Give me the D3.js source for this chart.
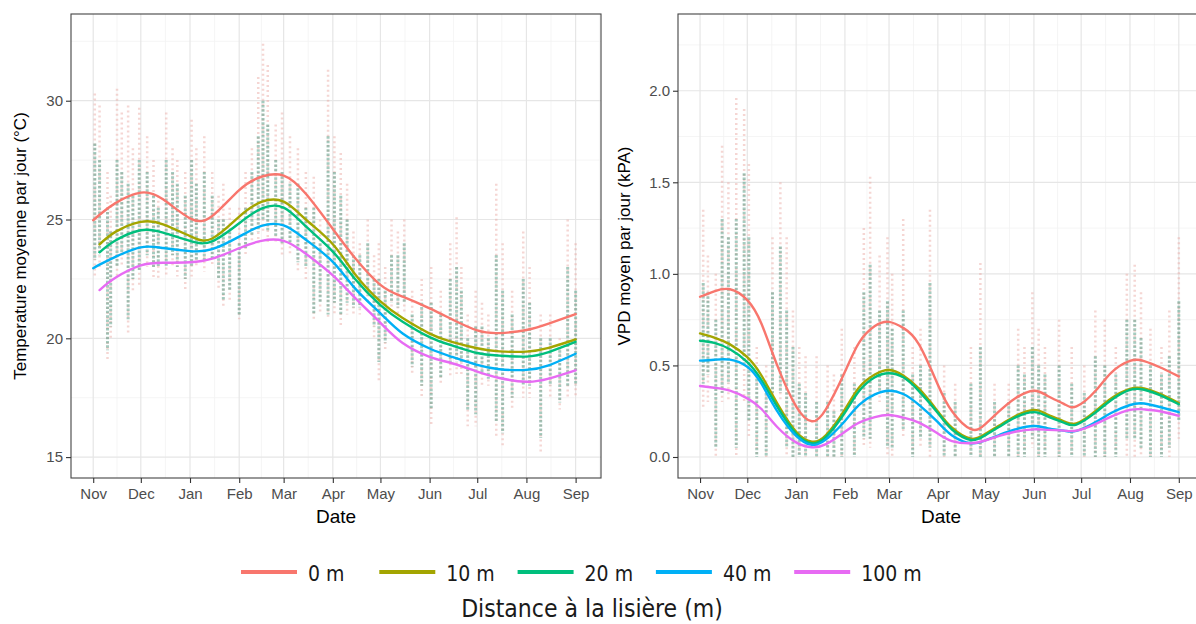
<!DOCTYPE html>
<html><head><meta charset="utf-8">
<script src="https://cdn.jsdelivr.net/npm/d3@7"></script>
<style>body{margin:0;background:#fff} svg{display:block}</style>
</head><body>
<svg id="chart" width="1196" height="624"></svg>
<script>
// ---------- DATA ----------
const seriesNames = ["0 m", "10 m", "20 m", "40 m", "100 m"];
const seriesColors = ["#F8766D", "#A3A500", "#00BF7D", "#00B0F6", "#E76BF3"];
const monthTicks = ["2020-11-01","2020-12-01","2021-01-01","2021-02-01","2021-03-01","2021-04-01","2021-05-01","2021-06-01","2021-07-01","2021-08-01","2021-09-01"];
const monthLabels = ["Nov","Dec","Jan","Feb","Mar","Apr","May","Jun","Jul","Aug","Sep"];
const tempTicks = [15, 20, 25, 30];
const vpdTicks = [0, 0.5, 1, 1.5, 2];
const vpdTickLabels = ["0.0", "0.5", "1.0", "1.5", "2.0"];

// smoothed temperature curves
const tempDates = ["2020-11-01","2020-11-05","2020-11-15","2020-12-01","2020-12-15","2021-01-01","2021-01-15","2021-02-01","2021-02-15","2021-03-01","2021-03-15","2021-04-01","2021-04-15","2021-05-01","2021-05-15","2021-06-01","2021-06-15","2021-07-01","2021-07-15","2021-08-01","2021-08-15","2021-09-01"];
const temp0m   = [24.97, 25.2, 25.69, 26.13, 25.85, 25.05, 25.15, 26.24, 26.8, 26.85, 26.08, 24.6, 23.38, 22.25, 21.75, 21.26, 20.8, 20.33, 20.22, 20.35, 20.62, 21.02];
const temp10m  = [null, 23.95, 24.48, 24.9, 24.8, 24.3, 24.2, 25.12, 25.74, 25.75, 25.0, 23.96, 22.7, 21.55, 20.85, 20.2, 19.85, 19.58, 19.45, 19.44, 19.6, 19.95];
const temp20m  = [null, 23.62, 24.12, 24.55, 24.45, 24.1, 24.08, 24.84, 25.46, 25.5, 24.71, 23.65, 22.5, 21.4, 20.7, 20.05, 19.7, 19.38, 19.27, 19.23, 19.42, 19.85];
const temp40m  = [22.95, 23.1, 23.43, 23.83, 23.8, 23.67, 23.75, 24.28, 24.73, 24.75, 24.15, 23.22, 22.1, 21.05, 20.2, 19.57, 19.22, 18.88, 18.7, 18.67, 18.86, 19.35];
const temp100m = [null, 22.03, 22.55, 23.07, 23.18, 23.2, 23.35, 23.79, 24.1, 24.1, 23.56, 22.65, 21.7, 20.65, 19.8, 19.22, 18.95, 18.6, 18.33, 18.17, 18.3, 18.65];

// smoothed VPD curves
const vpdDates = ["2020-11-01","2020-11-10","2020-11-20","2020-12-01","2020-12-10","2020-12-20","2021-01-01","2021-01-11","2021-01-20","2021-02-01","2021-02-10","2021-02-20","2021-03-01","2021-03-10","2021-03-20","2021-04-01","2021-04-10","2021-04-22","2021-05-01","2021-05-10","2021-05-20","2021-06-01","2021-06-10","2021-06-20","2021-06-28","2021-07-10","2021-07-20","2021-08-01","2021-08-10","2021-08-20","2021-09-01"];
const vpd0m   = [0.875, 0.905, 0.916, 0.857, 0.728, 0.50, 0.277, 0.195, 0.262, 0.465, 0.625, 0.715, 0.738, 0.705, 0.615, 0.395, 0.25, 0.152, 0.178, 0.25, 0.32, 0.362, 0.332, 0.29, 0.276, 0.36, 0.46, 0.525, 0.524, 0.49, 0.44];
const vpd10m  = [0.675, 0.652, 0.615, 0.545, 0.445, 0.293, 0.138, 0.084, 0.12, 0.26, 0.38, 0.45, 0.475, 0.445, 0.373, 0.249, 0.16, 0.10, 0.125, 0.172, 0.222, 0.257, 0.23, 0.195, 0.183, 0.25, 0.32, 0.372, 0.374, 0.345, 0.295];
const vpd20m  = [0.635, 0.623, 0.588, 0.518, 0.42, 0.275, 0.127, 0.075, 0.11, 0.243, 0.36, 0.435, 0.457, 0.435, 0.36, 0.24, 0.15, 0.093, 0.118, 0.165, 0.215, 0.245, 0.22, 0.187, 0.177, 0.242, 0.31, 0.366, 0.367, 0.338, 0.288];
const vpd40m  = [0.526, 0.531, 0.532, 0.493, 0.40, 0.25, 0.115, 0.066, 0.096, 0.197, 0.285, 0.342, 0.362, 0.344, 0.285, 0.19, 0.118, 0.075, 0.09, 0.12, 0.15, 0.169, 0.156, 0.144, 0.143, 0.19, 0.24, 0.284, 0.292, 0.273, 0.245];
const vpd100m = [0.388, 0.378, 0.362, 0.32, 0.262, 0.164, 0.08, 0.053, 0.07, 0.138, 0.188, 0.218, 0.229, 0.215, 0.188, 0.128, 0.087, 0.075, 0.09, 0.115, 0.138, 0.151, 0.148, 0.144, 0.144, 0.18, 0.22, 0.257, 0.26, 0.25, 0.225];

// daily observations (vertical spread of the point clouds): full range and dense core
const tempObsDates = ["2020-11-02","2020-11-05","2020-11-10","2020-11-12","2020-11-16","2020-11-19","2020-11-23","2020-11-26","2020-11-30","2020-12-05","2020-12-09","2020-12-12","2020-12-17","2020-12-21","2020-12-24","2020-12-29","2021-01-02","2021-01-05","2021-01-10","2021-01-15","2021-01-19","2021-01-22","2021-01-26","2021-02-01","2021-02-05","2021-02-09","2021-02-13","2021-02-16","2021-02-19","2021-02-24","2021-02-28","2021-03-05","2021-03-10","2021-03-15","2021-03-20","2021-03-24","2021-03-29","2021-04-02","2021-04-06","2021-04-10","2021-04-14","2021-04-18","2021-04-23","2021-04-27","2021-04-30","2021-05-04","2021-05-08","2021-05-12","2021-05-16","2021-05-21","2021-05-27","2021-06-02","2021-06-08","2021-06-14","2021-06-18","2021-06-21","2021-06-25","2021-06-30","2021-07-04","2021-07-08","2021-07-13","2021-07-17","2021-07-23","2021-07-30","2021-08-03","2021-08-10","2021-08-16","2021-08-22","2021-08-27","2021-09-01"];
const tempObsHigh = [30.3,29.8,27.0,26.0,30.5,29.5,29.8,28.0,29.7,28.5,27.5,26.0,29.5,28.0,27.5,27.0,29.2,28.0,28.5,27.0,26.0,26.5,25.5,25.5,27.0,28.0,31.0,32.4,31.5,29.0,29.5,28.5,28.0,27.0,26.8,25.0,31.3,28.5,27.8,26.5,24.5,24.0,25.0,23.5,24.0,23.0,25.0,24.5,25.0,22.0,22.5,23.0,22.0,24.0,25.1,23.0,21.0,22.0,21.5,21.0,26.5,24.0,22.0,24.5,23.0,21.0,21.0,20.0,25.0,24.0];
const tempObsLow  = [22.6,23.0,19.0,20.0,22.6,23.0,20.2,22.0,22.2,23.0,22.5,22.5,22.6,23.0,22.6,22.0,22.6,23.0,22.8,23.0,22.0,21.3,21.5,20.8,23.5,24.0,24.0,24.5,24.0,24.0,23.5,23.5,22.8,22.5,20.7,21.0,20.8,21.0,20.5,21.0,21.0,21.0,21.5,20.0,18.2,19.5,21.0,21.0,21.0,18.5,17.5,16.3,18.0,18.4,18.5,18.4,16.3,16.3,18.0,18.0,15.8,15.4,17.0,17.5,17.5,15.2,17.5,17.0,17.5,17.5];
const tempCoreHigh = [28.2,27.5,25.5,24.5,27.5,27.0,26.5,26.0,27.5,27.0,26.0,25.5,27.5,27.0,26.5,26.0,27.5,26.5,27.0,26.0,25.0,25.0,24.5,24.0,25.5,27.0,28.5,30.0,29.0,27.5,27.0,26.5,26.5,25.5,25.5,24.0,28.5,27.0,26.0,25.0,23.5,23.5,24.0,22.5,22.5,22.0,23.5,23.5,24.0,21.0,21.5,21.5,21.0,22.5,23.0,22.0,20.0,20.5,20.5,20.0,23.5,22.0,21.0,22.5,21.5,20.0,20.0,19.5,23.0,22.0];
const tempCoreLow  = [23.3,23.5,19.5,20.5,23.0,23.5,20.8,22.5,22.8,23.5,23.0,23.0,23.0,23.5,23.0,22.5,23.0,23.3,23.2,23.3,22.5,21.6,22.0,21.0,23.8,24.3,24.5,25.0,24.5,24.3,24.0,24.0,23.2,23.0,21.0,21.5,21.0,21.5,21.0,21.5,21.3,21.3,21.8,20.5,19.0,19.8,21.5,21.3,21.5,18.8,18.0,17.0,18.3,19.0,19.0,19.0,17.0,16.8,18.5,18.3,16.5,16.0,17.5,18.0,18.0,15.8,18.0,17.3,18.0,18.0];

const vpdObsDates = ["2020-11-03","2020-11-06","2020-11-11","2020-11-15","2020-11-19","2020-11-24","2020-11-29","2020-12-02","2020-12-07","2020-12-13","2020-12-17","2020-12-22","2020-12-26","2020-12-30","2021-01-03","2021-01-07","2021-01-14","2021-01-21","2021-01-25","2021-01-30","2021-02-07","2021-02-13","2021-02-17","2021-02-23","2021-02-28","2021-03-03","2021-03-10","2021-03-16","2021-03-21","2021-03-27","2021-04-05","2021-04-12","2021-04-22","2021-04-28","2021-05-07","2021-05-16","2021-05-22","2021-05-26","2021-05-31","2021-06-04","2021-06-08","2021-06-17","2021-06-25","2021-07-03","2021-07-10","2021-07-16","2021-07-23","2021-07-30","2021-08-04","2021-08-08","2021-08-14","2021-08-21","2021-08-26","2021-09-01"];
const vpdObsHigh = [1.35,1.1,1.0,1.7,1.5,1.96,1.9,1.6,0.6,0.5,1.2,1.5,1.2,0.8,0.6,0.55,0.55,0.5,0.45,0.7,0.6,1.25,1.53,1.1,1.2,1.0,1.3,0.6,0.7,1.35,0.5,0.4,0.6,1.06,0.4,0.4,0.7,0.6,0.9,0.7,0.6,0.75,0.6,0.5,0.8,0.75,0.6,1.0,1.05,0.9,0.7,0.6,0.8,1.2];
const vpdObsLow  = [0.26,0.3,0.0,0.3,0.3,0.0,0.3,0.1,0.0,0.0,0.3,0.3,0.0,0.0,0.0,0.0,0.0,0.0,0.0,0.0,0.0,0.05,0.05,0.3,0.0,0.0,0.1,0.0,0.05,0.0,0.0,0.0,0.0,0.0,0.0,0.0,0.0,0.0,0.05,0.0,0.0,0.0,0.0,0.0,0.0,0.0,0.0,0.0,0.0,0.0,0.0,0.0,0.0,0.1];
const vpdCoreHigh = [0.95,0.9,0.75,1.3,1.2,1.3,1.55,1.2,0.45,0.35,0.9,1.15,0.8,0.6,0.4,0.35,0.3,0.3,0.25,0.45,0.4,0.9,1.05,0.8,0.85,0.7,0.8,0.45,0.5,0.95,0.35,0.3,0.4,0.6,0.3,0.3,0.5,0.45,0.6,0.5,0.45,0.5,0.4,0.35,0.55,0.5,0.45,0.75,0.75,0.65,0.5,0.45,0.55,0.85];
const vpdCoreLow  = [0.4,0.45,0.05,0.35,0.4,0.05,0.5,0.2,0.0,0.0,0.35,0.35,0.05,0.0,0.0,0.0,0.0,0.0,0.0,0.0,0.0,0.1,0.1,0.35,0.05,0.05,0.15,0.0,0.1,0.05,0.0,0.0,0.0,0.0,0.0,0.0,0.0,0.0,0.1,0.0,0.0,0.0,0.0,0.0,0.0,0.0,0.0,0.1,0.1,0.05,0.0,0.0,0.05,0.2];

// ---------- DRAWING ----------
const parse = d3.timeParse("%Y-%m-%d");
const svg = d3.select("#chart");
svg.append("rect").attr("width", 1196).attr("height", 624).attr("fill", "#fff");

const dateDomain = [new Date(2020, 9, 18), new Date(2021, 8, 17)];
const tickFont = "'Liberation Sans', Arial, Helvetica, sans-serif";

function drawPanel(cfg) {
  const x = d3.scaleTime().domain(dateDomain).range([cfg.x0, cfg.x1]);
  const y = d3.scaleLinear().domain(cfg.yDomain).range([478, 14]);
  const g = svg.append("g");
  const clipId = "clip" + cfg.id;
  svg.append("clipPath").attr("id", clipId).append("rect")
    .attr("x", cfg.x0).attr("y", 14).attr("width", cfg.x1 - cfg.x0).attr("height", 464);

  // grid
  const grid = g.append("g").attr("clip-path", `url(#${clipId})`);
  const majors = monthTicks.map(parse);
  const minorX = [];
  minorX.push(new Date(2020, 9, 16, 12));
  for (let i = 0; i < majors.length - 1; i++) minorX.push(new Date((+majors[i] + +majors[i + 1]) / 2));
  minorX.push(new Date(2021, 8, 16));
  grid.selectAll(".mx").data(minorX).join("line")
    .attr("x1", d => x(d)).attr("x2", d => x(d)).attr("y1", 14).attr("y2", 478)
    .attr("stroke", "#F2F2F2").attr("stroke-width", 0.8);
  grid.selectAll(".my").data(cfg.minorY).join("line")
    .attr("x1", cfg.x0).attr("x2", cfg.x1).attr("y1", d => y(d)).attr("y2", d => y(d))
    .attr("stroke", "#F2F2F2").attr("stroke-width", 0.8);
  grid.selectAll(".Mx").data(majors).join("line")
    .attr("x1", d => x(d)).attr("x2", d => x(d)).attr("y1", 14).attr("y2", 478)
    .attr("stroke", "#E6E6E6").attr("stroke-width", 1.2);
  grid.selectAll(".My").data(cfg.ticks).join("line")
    .attr("x1", cfg.x0).attr("x2", cfg.x1).attr("y1", d => y(d)).attr("y2", d => y(d))
    .attr("stroke", "#E6E6E6").attr("stroke-width", 1.2);

  // point clouds (drawn as dotted vertical streaks)
  const obs = g.append("g").attr("clip-path", `url(#${clipId})`);
  const od = cfg.obsDates.map((d, i) => ({ d: parse(d), hi: cfg.obsHigh[i], lo: cfg.obsLow[i], chi: cfg.coreHigh[i], clo: cfg.coreLow[i] }));
  obs.selectAll(".o").data(od).join("line")
    .attr("x1", d => x(d.d)).attr("x2", d => x(d.d))
    .attr("y1", d => y(d.hi)).attr("y2", d => y(d.lo))
    .attr("stroke", "#eaa59f").attr("stroke-width", 2.5).attr("stroke-dasharray", "2,3").attr("opacity", 0.45);
  obs.selectAll(".c").data(od).join("line")
    .attr("x1", d => x(d.d)).attr("x2", d => x(d.d))
    .attr("y1", d => y(d.chi)).attr("y2", d => y(d.clo))
    .attr("stroke", "#4f9a82").attr("stroke-width", 3).attr("stroke-dasharray", "2.5,1.8").attr("opacity", 0.5);

  // smooth curves
  const curves = g.append("g").attr("clip-path", `url(#${clipId})`);
  const line = d3.line().x(d => x(d.d)).y(d => y(d.v)).curve(d3.curveNatural);
  cfg.series.forEach((vals, k) => {
    const pts = cfg.dates.map((d, i) => ({ d: parse(d), v: vals[i] })).filter(p => p.v !== null);
    curves.append("path").datum(pts).attr("d", line)
      .attr("fill", "none").attr("stroke", seriesColors[k]).attr("stroke-width", 2.4)
      .attr("stroke-linejoin", "round").attr("stroke-linecap", "round");
  });

  // border
  g.append("rect").attr("x", cfg.x0).attr("y", 14).attr("width", cfg.x1 - cfg.x0).attr("height", 464)
    .attr("fill", "none").attr("stroke", "#444").attr("stroke-width", 1.1);

  // axes
  const xAxis = d3.axisBottom(x).tickValues(majors).tickFormat((d, i) => monthLabels[i]).tickSize(5).tickPadding(5);
  const ax = g.append("g").attr("transform", "translate(0,478)").call(xAxis);
  const yAxis = d3.axisLeft(y).tickValues(cfg.ticks).tickFormat((d, i) => cfg.tickLabels[i]).tickSize(5).tickPadding(3);
  const ay = g.append("g").attr("transform", `translate(${cfg.x0},0)`).call(yAxis);
  [ax, ay].forEach(a => {
    a.select(".domain").remove();
    a.selectAll(".tick line").attr("stroke", "#333").attr("stroke-width", 1.1);
    a.selectAll(".tick text").attr("fill", "#4D4D4D").style("font-family", tickFont).style("font-size", "15px");
  });

  // titles
  g.append("text").attr("x", (cfg.x0 + cfg.x1) / 2).attr("y", 522.5).attr("text-anchor", "middle")
    .style("font-family", tickFont).style("font-size", "19px").attr("fill", "#000").text("Date");
  g.append("text").attr("transform", `translate(${cfg.titleX},246) rotate(-90)`).attr("text-anchor", "middle")
    .style("font-family", tickFont).style("font-size", "17px").attr("fill", "#000").text(cfg.yTitle);
}

drawPanel({
  id: "T", x0: 71, x1: 601, yDomain: [14.12, 33.65],
  ticks: tempTicks, tickLabels: tempTicks.map(String), minorY: [17.5, 22.5, 27.5, 32.5],
  dates: tempDates, series: [temp0m, temp10m, temp20m, temp40m, temp100m],
  obsDates: tempObsDates, obsHigh: tempObsHigh, obsLow: tempObsLow, coreHigh: tempCoreHigh, coreLow: tempCoreLow,
  titleX: 26, yTitle: "Temperature moyenne par jour (°C)"
});
drawPanel({
  id: "V", x0: 678, x1: 1204, yDomain: [-0.1147, 2.419],
  ticks: vpdTicks, tickLabels: vpdTickLabels, minorY: [0.25, 0.75, 1.25, 1.75, 2.25],
  dates: vpdDates, series: [vpd0m, vpd10m, vpd20m, vpd40m, vpd100m],
  obsDates: vpdObsDates, obsHigh: vpdObsHigh, obsLow: vpdObsLow, coreHigh: vpdCoreHigh, coreLow: vpdCoreLow,
  titleX: 630, yTitle: "VPD moyen par jour (kPA)"
});

// legend
const legFont = "'DejaVu Sans Condensed', 'DejaVu Sans', sans-serif";
const leg = svg.append("g");
const items = leg.selectAll(".li").data(seriesNames).join("g")
  .attr("transform", (d, i) => `translate(${241 + i * 138.3},572)`);
items.append("line").attr("x1", 0).attr("x2", 56).attr("y1", 0).attr("y2", 0)
  .attr("stroke", (d, i) => seriesColors[i]).attr("stroke-width", 4);
items.append("text").attr("x", 67).attr("y", 8.5).text(d => d)
  .style("font-family", legFont).style("font-stretch", "condensed").style("font-size", "21px").attr("fill", "#1a1a1a");
leg.append("text").attr("x", 592).attr("y", 617).attr("text-anchor", "middle")
  .style("font-family", legFont).style("font-stretch", "condensed").style("font-size", "24.5px").attr("fill", "#1a1a1a")
  .text("Distance à la lisière (m)");
</script>
</body></html>
